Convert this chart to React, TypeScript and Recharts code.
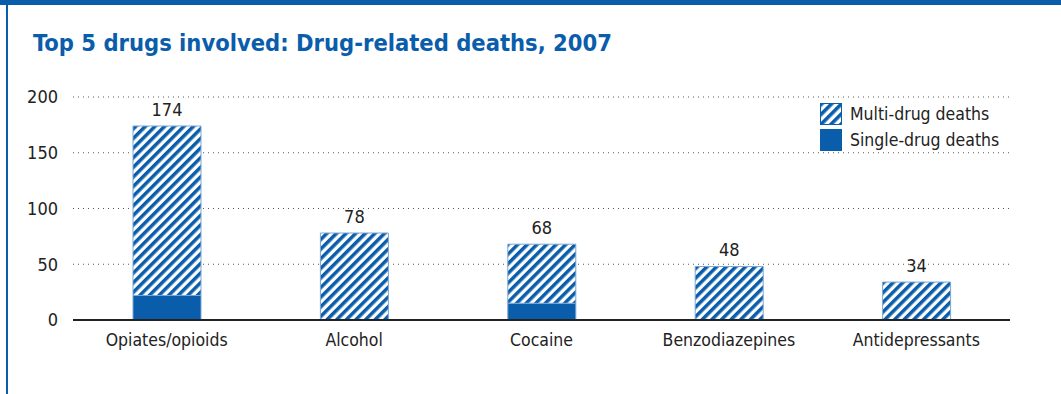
import { BarChart, Bar, XAxis, YAxis, CartesianGrid, LabelList } from 'recharts';

const drugs = ['Opiates/opioids', 'Alcohol', 'Cocaine', 'Benzodiazepines', 'Antidepressants'];
const singleDrug = [22, 0, 15, 0, 0];
const multiDrug = [152, 78, 53, 48, 34];
const totals = [174, 78, 68, 48, 34];
const yTicks = [0, 50, 100, 150, 200];

const data = drugs.map((name, i) => ({
	name,
	single: singleDrug[i],
	multi: multiDrug[i],
	total: totals[i],
}));

const BLUE = '#0a5dab';
const FONT = '"DejaVu Sans Condensed", "Liberation Sans Narrow", sans-serif';

function LegendBox() {
	const items = [
		{ label: 'Multi-drug deaths', fill: 'url(#hatchLegend)' },
		{ label: 'Single-drug deaths', fill: BLUE },
	];
	return (
		<div style={{ position: 'absolute', left: 820, top: 101, fontFamily: FONT, fontSize: 17.5, color: '#222' }}>
			{items.map((it) => (
				<div key={it.label} style={{ display: 'flex', alignItems: 'center', height: 26 }}>
					<svg width={22} height={22} style={{ marginRight: 8 }}>
						<rect x={0.5} y={0.5} width={21} height={21} fill={it.fill} stroke={BLUE} />
					</svg>
					<span>{it.label}</span>
				</div>
			))}
		</div>
	);
}

export default function App() {
	return (
		<div
			style={{
				position: 'absolute',
				left: 0,
				top: 0,
				width: 1061,
				height: 394,
				background: '#fff',
				overflow: 'hidden',
			}}
		>
			<svg width={0} height={0} style={{ position: 'absolute' }}>
				<defs>
					<pattern id="hatch" patternUnits="userSpaceOnUse" width={6.8} height={6.8} patternTransform="rotate(45)">
						<rect width={6.8} height={6.8} fill="#fff" />
						<rect width={3.5} height={6.8} fill={BLUE} />
					</pattern>
					<pattern id="hatchLegend" patternUnits="userSpaceOnUse" width={7} height={7} patternTransform="rotate(45)">
						<rect width={7} height={7} fill="#fff" />
						<rect width={3.6} height={7} fill={BLUE} />
					</pattern>
				</defs>
			</svg>
			<div style={{ position: 'absolute', left: 0, top: 0, width: 1061, height: 5, background: BLUE }} />
			<div style={{ position: 'absolute', left: 6, top: 0, width: 2, height: 394, background: BLUE }} />
			<div
				style={{
					position: 'absolute',
					left: 33,
					top: 29,
					fontFamily: FONT,
					fontWeight: 'bold',
					fontSize: 23.5,
					color: BLUE,
					whiteSpace: 'nowrap',
				}}
			>
				Top 5 drugs involved: Drug-related deaths, 2007
			</div>
			<BarChart
				width={1061}
				height={394}
				data={data}
				margin={{ top: 97, right: 51, left: 0, bottom: 44 }}
				barSize={68}
			>
				<CartesianGrid vertical={false} stroke="#555" strokeDasharray="1 4" horizontalValues={[50, 100, 150, 200]} />
				<XAxis
					dataKey="name"
					tickLine={false}
					axisLine={{ stroke: '#222', strokeWidth: 2 }}
					tick={{ fontFamily: FONT, fontSize: 17.5, fill: '#222' }}
					tickMargin={8}
					height={30}
				/>
				<YAxis
					width={73}
					domain={[0, 200]}
					ticks={yTicks}
					tickLine={false}
					axisLine={false}
					tick={{ fontFamily: FONT, fontSize: 18, fill: '#222' }}
					tickMargin={9}
				/>
				<Bar dataKey="single" stackId="a" fill={BLUE} stroke="#7aa6d4" strokeWidth={1} isAnimationActive={false} />
				<Bar dataKey="multi" stackId="a" fill="url(#hatch)" stroke="#7aa6d4" strokeWidth={1} isAnimationActive={false}>
					<LabelList
						dataKey="total"
						position="top"
						offset={10}
						style={{ fontFamily: FONT, fontSize: 18, fill: '#222' }}
					/>
				</Bar>
			</BarChart>
			<LegendBox />
		</div>
	);
}
